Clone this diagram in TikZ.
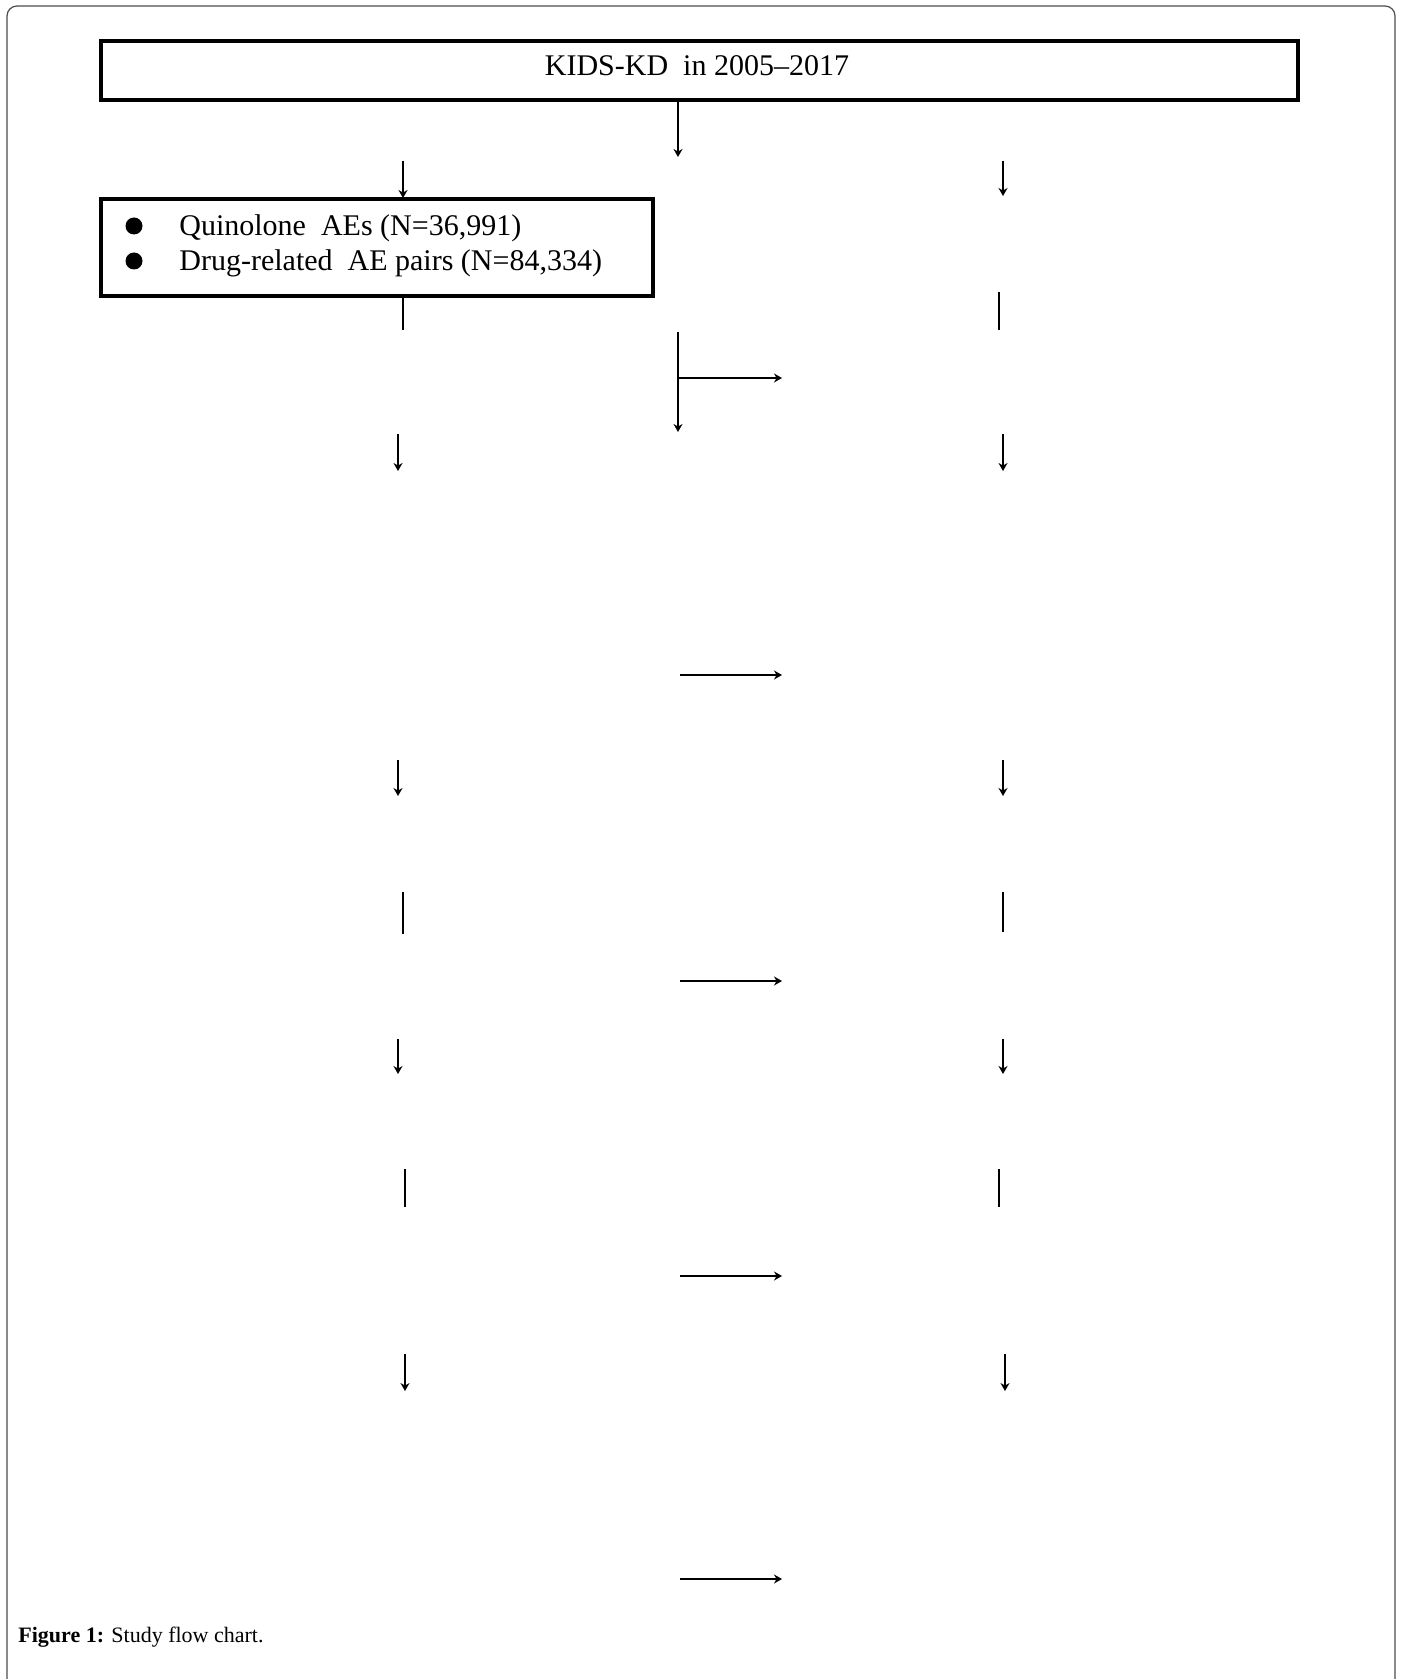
\documentclass[tikz,border=0pt]{standalone}
\usepackage{fontspec}
\setmainfont{Liberation Serif}
\usetikzlibrary{arrows.meta}
\begin{document}
\begin{tikzpicture}[x=0.5pt,y=-0.5pt,
  boxstyle/.style={draw=black,line width=1.6pt,rectangle,inner sep=0pt},
  conn/.style={line width=1.35pt,draw=black},
  arr/.style={conn,-{Stealth[length=4pt,width=4.5pt]}},
  chartfont/.style={font=\fontsize{15}{17}\selectfont},
  bulletdot/.style={circle,fill=black,inner sep=0pt,minimum size=8.5pt}]
\useasboundingbox (0,0) rectangle (1401,1679);
% outer frame
\draw[line width=0.6pt,draw=black!70,rounded corners=5pt] (7,1679) -- (7,6) -- (1395,6) -- (1395,1679);
% top box
\node[boxstyle,minimum width=598.5pt,minimum height=29.5pt] (top) at (699.5,70.5) {};
\node[inner sep=0pt,chartfont] (title) at (697,66) {KIDS-KD\ \ in 2005--2017};
% bullet box
\node[boxstyle,minimum width=276pt,minimum height=48.5pt] (quin) at (377,247.5) {};
\node[bulletdot] (b1) at (134,226) {};
\node[bulletdot] (b2) at (134,261) {};
\node[anchor=west,inner sep=0pt,chartfont] (t1) at (179,228) {Quinolone\ \ AEs (N=36,991)};
\node[anchor=west,inner sep=0pt,chartfont] (t2) at (179,263) {Drug-related\ \ AE pairs (N=84,334)};
% coordinates for free ends
\coordinate (c1) at (678,157);
\coordinate (l1a) at (403,161); \coordinate (l1b) at (403,198);
\coordinate (r1a) at (1003,161); \coordinate (r1b) at (1003,196);
\coordinate (l2b) at (403,330);
\coordinate (r2a) at (999,292); \coordinate (r2b) at (999,330);
\coordinate (m2a) at (678,332); \coordinate (m2b) at (678,432);
\coordinate (m2c) at (678,378); \coordinate (m2d) at (782,378);
\coordinate (l3a) at (398,434); \coordinate (l3b) at (398,471);
\coordinate (r3a) at (1003,434); \coordinate (r3b) at (1003,471);
\coordinate (h3a) at (680,675); \coordinate (h3b) at (782,675);
\coordinate (l4a) at (398,760); \coordinate (l4b) at (398,796);
\coordinate (r4a) at (1003,760); \coordinate (r4b) at (1003,796);
\coordinate (l5a) at (403,892); \coordinate (l5b) at (403,934);
\coordinate (r5a) at (1003,892); \coordinate (r5b) at (1003,932);
\coordinate (h5a) at (680,981); \coordinate (h5b) at (782,981);
\coordinate (l6a) at (398,1039); \coordinate (l6b) at (398,1074);
\coordinate (r6a) at (1003,1039); \coordinate (r6b) at (1003,1074);
\coordinate (l7a) at (405,1169); \coordinate (l7b) at (405,1207);
\coordinate (r7a) at (999,1169); \coordinate (r7b) at (999,1207);
\coordinate (h7a) at (680,1276); \coordinate (h7b) at (782,1276);
\coordinate (l8a) at (405,1354); \coordinate (l8b) at (405,1391);
\coordinate (r8a) at (1005,1354); \coordinate (r8b) at (1005,1391);
\coordinate (h8a) at (680,1579); \coordinate (h8b) at (782,1579);
% connectors
\draw[arr] (top.south -| c1) -- (c1);
\draw[arr] (l1a) -- (l1b);
\draw[arr] (r1a) -- (r1b);
\draw[conn] (quin.south -| l2b) -- (l2b);
\draw[conn] (r2a) -- (r2b);
\draw[arr] (m2a) -- (m2b);
\draw[arr] (m2c) -- (m2d);
\draw[arr] (l3a) -- (l3b);
\draw[arr] (r3a) -- (r3b);
\draw[arr] (h3a) -- (h3b);
\draw[arr] (l4a) -- (l4b);
\draw[arr] (r4a) -- (r4b);
\draw[conn] (l5a) -- (l5b);
\draw[conn] (r5a) -- (r5b);
\draw[arr] (h5a) -- (h5b);
\draw[arr] (l6a) -- (l6b);
\draw[arr] (r6a) -- (r6b);
\draw[conn] (l7a) -- (l7b);
\draw[conn] (r7a) -- (r7b);
\draw[arr] (h7a) -- (h7b);
\draw[arr] (l8a) -- (l8b);
\draw[arr] (r8a) -- (r8b);
\draw[arr] (h8a) -- (h8b);
% caption
\node[anchor=west,inner sep=0pt,font=\fontsize{11}{13}\selectfont] (cap) at (18,1637) {\textbf{Figure 1:} Study flow chart.};
\end{tikzpicture}
\end{document}
